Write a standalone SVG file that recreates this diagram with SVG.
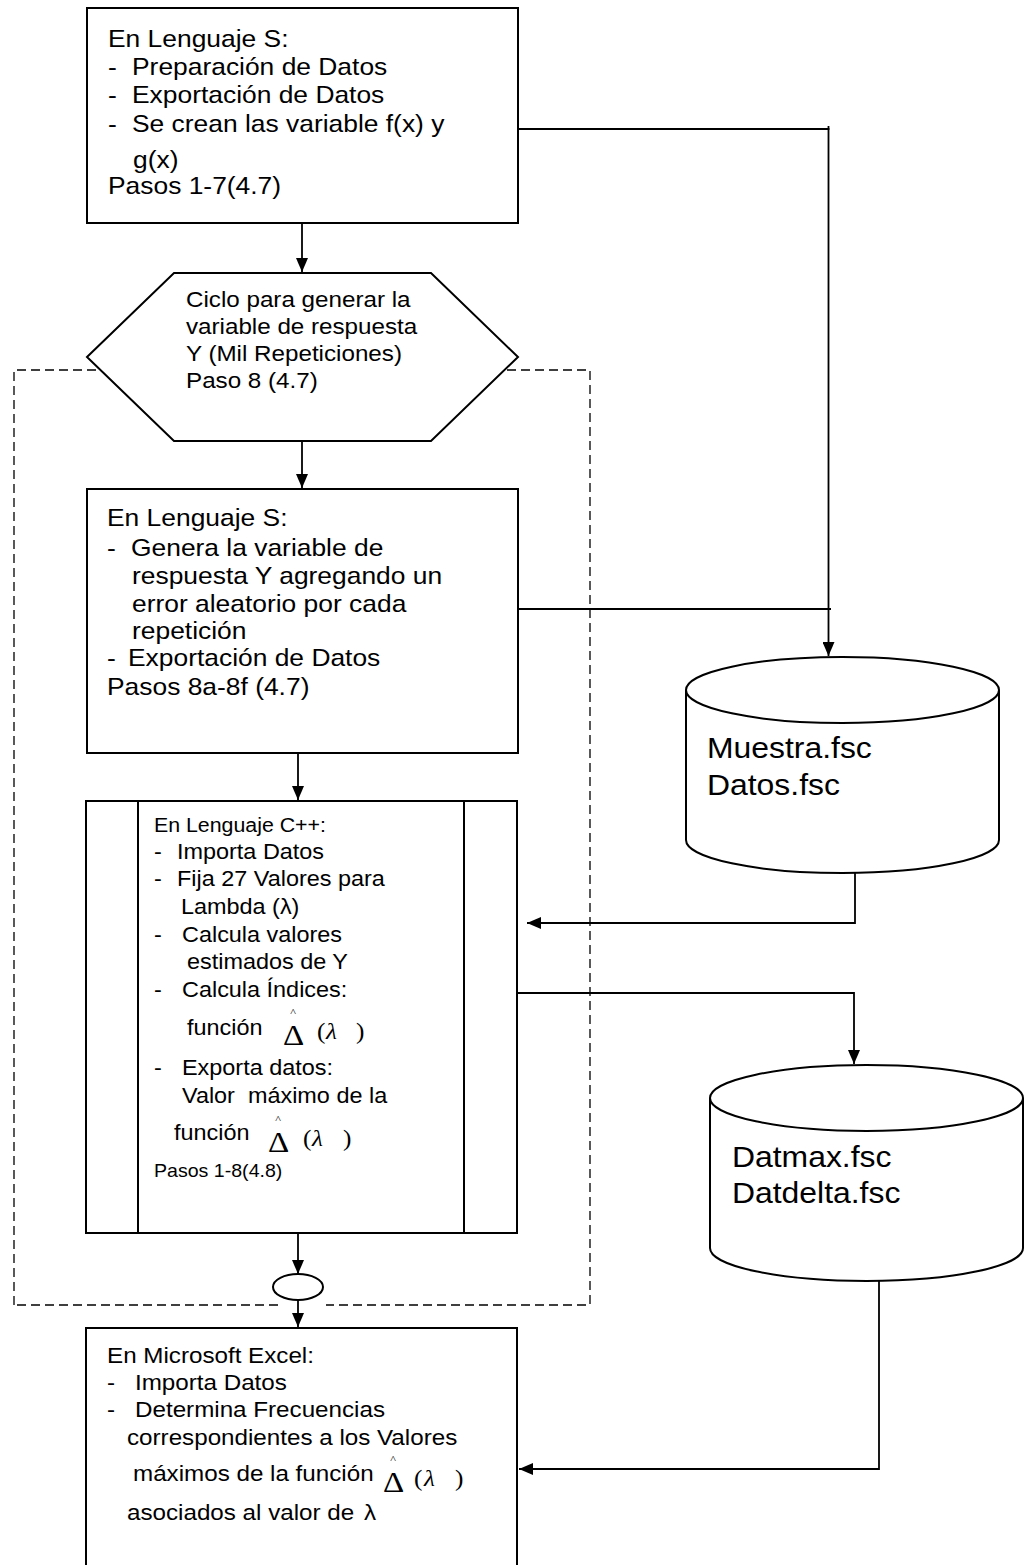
<svg xmlns="http://www.w3.org/2000/svg" width="1031" height="1565" viewBox="0 0 1031 1565">
  <style>
    .shape { fill: #fff; stroke: #000; stroke-width: 2; }
    .wire { fill: none; stroke: #000; stroke-width: 1.8; }
    .frame { fill: none; stroke: #000; stroke-width: 1.3; stroke-dasharray: 9 5; }
    .s { font-family: "Liberation Sans", Arial, sans-serif; fill: #000; }
    .m { font-family: "Liberation Serif", "Times New Roman", serif; fill: #000; }
    .f24 { font-size: 24px; }
    .f22 { font-size: 22px; }
    .f21 { font-size: 21.3px; }
    .f19 { font-size: 19.4px; }
    .f18 { font-size: 17.8px; }
    .f29 { font-size: 29px; }
    .delta { font-size: 30px; }
    .hat { font-size: 11px; }
    .par { font-size: 23px; }
    .lam { font-size: 23px; font-style: italic; }
  </style>
  <defs>
    <marker id="ah" viewBox="0 0 14 12" refX="14" refY="6" markerWidth="14" markerHeight="12" markerUnits="userSpaceOnUse" orient="auto">
      <path d="M0,0 L14,6 L0,12 z" fill="#000"/>
    </marker>
  </defs>
  <rect width="1031" height="1565" fill="#fff"/>

  <!-- dashed loop boundary (drawn first so the nodes sit over it) -->
  <path id="loop-frame" class="frame" d="M14,1305 V370 H590 V1305 H326 M278,1305 H14"/>

  <g id="connectors">
    <path class="wire" d="M302,223 V272" marker-end="url(#ah)"/>
    <path class="wire" d="M302,441 V488" marker-end="url(#ah)"/>
    <path class="wire" d="M298,753 V800" marker-end="url(#ah)"/>
    <path class="wire" d="M298,1221 V1274" marker-end="url(#ah)"/>
    <path class="wire" d="M298,1300 V1327" marker-end="url(#ah)"/>
    <path class="wire" d="M518,129 H828.5 V656" marker-end="url(#ah)"/>
    <path class="wire" d="M828.5,126 V130"/>
    <path class="wire" d="M518,609 H831"/>
    <path class="wire" d="M855,873 V923 H527" marker-end="url(#ah)"/>
    <path class="wire" d="M518,993 H854 V1064" marker-end="url(#ah)"/>
    <path class="wire" d="M879,1281 V1469 H519" marker-end="url(#ah)"/>
  </g>

  <g id="prep-s">
    <rect class="shape" x="87" y="8" width="431" height="215"/>
    <text class="s f24" transform="translate(108,47) scale(1.1,1)">En Lenguaje S:</text>
    <text class="s f24" transform="translate(108,75) scale(1.1,1)">-</text>
    <text class="s f24" transform="translate(132,75) scale(1.1,1)">Preparación de Datos</text>
    <text class="s f24" transform="translate(108,103) scale(1.1,1)">-</text>
    <text class="s f24" transform="translate(132,103) scale(1.1,1)">Exportación de Datos</text>
    <text class="s f24" transform="translate(108,132) scale(1.1,1)">-</text>
    <text class="s f24" transform="translate(132,132) scale(1.1,1)">Se crean las variable f(x) y</text>
    <text class="s f24" transform="translate(133,168) scale(1.1,1)">g(x)</text>
    <text class="s f24" transform="translate(108,194) scale(1.1,1)">Pasos 1-7(4.7)</text>
  </g>

  <g id="loop-start">
    <polygon class="shape" points="87,357 174,273 431,273 518,357 431,441 174,441"/>
    <text class="s f22" transform="translate(186,307) scale(1.1,1)">Ciclo para generar la</text>
    <text class="s f22" transform="translate(186,334) scale(1.1,1)">variable de respuesta</text>
    <text class="s f22" transform="translate(186,361) scale(1.1,1)">Y (Mil Repeticiones)</text>
    <text class="s f22" transform="translate(186,388) scale(1.1,1)">Paso 8 (4.7)</text>
  </g>

  <g id="gen-s">
    <rect class="shape" x="87" y="489" width="431" height="264"/>
    <text class="s f24" transform="translate(107,526) scale(1.1,1)">En Lenguaje S:</text>
    <text class="s f24" transform="translate(107,556) scale(1.1,1)">-</text>
    <text class="s f24" transform="translate(131,556) scale(1.1,1)">Genera la variable de</text>
    <text class="s f24" transform="translate(132,584) scale(1.1,1)">respuesta Y agregando un</text>
    <text class="s f24" transform="translate(132,612) scale(1.1,1)">error aleatorio por cada</text>
    <text class="s f24" transform="translate(132,639) scale(1.1,1)">repetición</text>
    <text class="s f24" transform="translate(107,666) scale(1.1,1)">-</text>
    <text class="s f24" transform="translate(128,666) scale(1.1,1)">Exportación de Datos</text>
    <text class="s f24" transform="translate(107,695) scale(1.1,1)">Pasos 8a-8f (4.7)</text>
  </g>

  <g id="calc-cpp">
    <rect class="shape" x="86" y="801" width="431" height="432"/>
    <path class="wire" d="M138,801 V1233 M464,801 V1233" style="stroke-width:2"/>
    <text class="s f19" transform="translate(154,832) scale(1.1,1)">En Lenguaje C++:</text>
    <text class="s f21" transform="translate(154,859) scale(1.1,1)">-</text>
    <text class="s f21" transform="translate(177,859) scale(1.1,1)">Importa Datos</text>
    <text class="s f21" transform="translate(154,886) scale(1.1,1)">-</text>
    <text class="s f21" transform="translate(177,886) scale(1.1,1)">Fija 27 Valores para</text>
    <text class="s f21" transform="translate(181,914) scale(1.1,1)">Lambda (λ)</text>
    <text class="s f21" transform="translate(154,942) scale(1.1,1)">-</text>
    <text class="s f21" transform="translate(182,942) scale(1.1,1)">Calcula valores</text>
    <text class="s f21" transform="translate(187,969) scale(1.1,1)">estimados de Y</text>
    <text class="s f21" transform="translate(154,997) scale(1.1,1)">-</text>
    <text class="s f21" transform="translate(182,997) scale(1.1,1)">Calcula Índices:</text>
    <text class="s f21" transform="translate(187,1035) scale(1.1,1)">función</text>
    <text class="m" transform="translate(283,1045) scale(1.1,1)"><tspan class="delta" x="0" y="0">Δ</tspan><tspan class="hat" x="6.6" y="-29.5">^</tspan><tspan class="par" x="30.9" y="-6">(</tspan><tspan class="lam" x="39.1" y="-6">λ</tspan><tspan class="par" x="66.4" y="-6">)</tspan></text>
    <text class="s f21" transform="translate(154,1075) scale(1.1,1)">-</text>
    <text class="s f21" transform="translate(182,1075) scale(1.1,1)">Exporta datos:</text>
    <text class="s f21" xml:space="preserve" transform="translate(182,1103) scale(1.1,1)">Valor  máximo de la</text>
    <text class="s f21" transform="translate(174,1140) scale(1.1,1)">función</text>
    <text class="m" transform="translate(268,1152) scale(1.1,1)"><tspan class="delta" x="0" y="0">Δ</tspan><tspan class="hat" x="6.6" y="-29.5">^</tspan><tspan class="par" x="31.8" y="-6">(</tspan><tspan class="lam" x="40" y="-6">λ</tspan><tspan class="par" x="68.2" y="-6">)</tspan></text>
    <text class="s f18" transform="translate(154,1177) scale(1.1,1)">Pasos 1-8(4.8)</text>
  </g>

  <g id="loop-end">
    <ellipse class="shape" cx="298" cy="1287" rx="25" ry="13"/>
  </g>

  <g id="report-excel">
    <rect class="shape" x="86" y="1328" width="431" height="260"/>
    <text class="s f22" transform="translate(107,1363) scale(1.1,1)">En Microsoft Excel:</text>
    <text class="s f22" transform="translate(107,1390) scale(1.1,1)">-</text>
    <text class="s f22" transform="translate(135,1390) scale(1.1,1)">Importa Datos</text>
    <text class="s f22" transform="translate(107,1417) scale(1.1,1)">-</text>
    <text class="s f22" transform="translate(135,1417) scale(1.1,1)">Determina Frecuencias</text>
    <text class="s f22" transform="translate(127,1445) scale(1.1,1)">correspondientes a los Valores</text>
    <text class="s f22" transform="translate(133,1481) scale(1.1,1)">máximos de la función</text>
    <text class="m" transform="translate(383,1492) scale(1.1,1)"><tspan class="delta" x="0" y="0">Δ</tspan><tspan class="hat" x="6.6" y="-29.5">^</tspan><tspan class="par" x="28.2" y="-6">(</tspan><tspan class="lam" x="37.3" y="-6">λ</tspan><tspan class="par" x="65.5" y="-6">)</tspan></text>
    <text class="s f22" transform="translate(127,1520) scale(1.1,1)">asociados al valor de</text>
    <text class="s f22" transform="translate(364,1520) scale(1.1,1)">λ</text>
  </g>

  <g id="store-muestra">
    <path class="shape" d="M686,690 A156.5,33 0 0 1 999,690 V840 A156.5,33 0 0 1 686,840 Z"/>
    <path class="wire" d="M686,690 A156.5,33 0 0 0 999,690" style="stroke-width:2"/>
    <text class="s f29" transform="translate(707,758) scale(1.1,1)">Muestra.fsc</text>
    <text class="s f29" transform="translate(707,795) scale(1.1,1)">Datos.fsc</text>
  </g>

  <g id="store-datmax">
    <path class="shape" d="M710,1098 A156.5,33 0 0 1 1023,1098 V1248 A156.5,33 0 0 1 710,1248 Z"/>
    <path class="wire" d="M710,1098 A156.5,33 0 0 0 1023,1098" style="stroke-width:2"/>
    <text class="s f29" transform="translate(732,1167) scale(1.1,1)">Datmax.fsc</text>
    <text class="s f29" transform="translate(732,1203) scale(1.1,1)">Datdelta.fsc</text>
  </g>
</svg>
